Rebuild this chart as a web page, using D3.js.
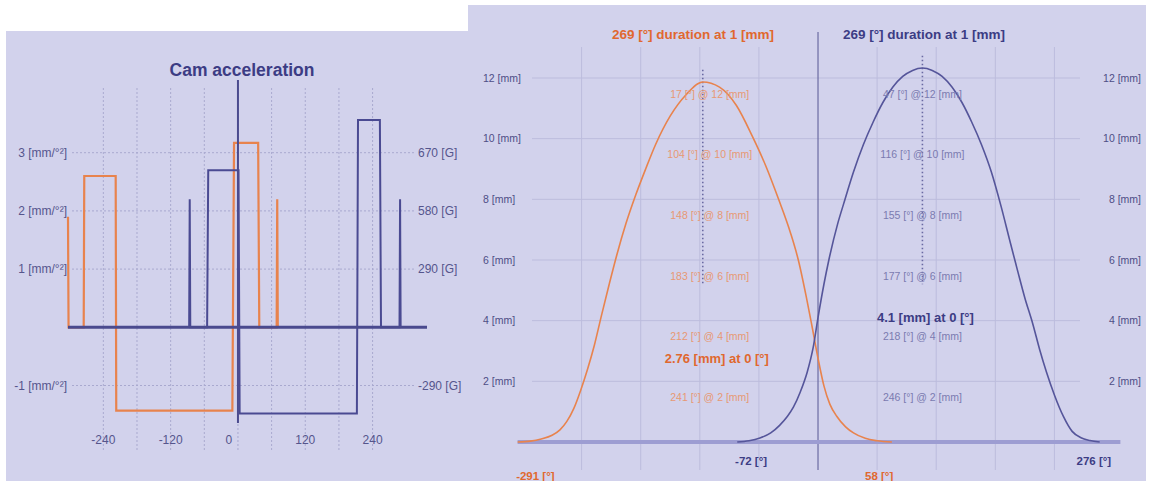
<!DOCTYPE html>
<html><head><meta charset="utf-8">
<script src="https://cdn.jsdelivr.net/npm/d3@7"></script>
<style>
body{margin:0;background:#fff;}
svg{display:block;font-family:"Liberation Sans",Arial,sans-serif;}
</style>
</head><body>
<svg id="c" width="1155" height="481"></svg>
<script>
// ---------- LEFT CHART DATA (Cam acceleration) ----------
const accelTicksY = [3, 2, 1, -1];
const accelLabelsLeft = ["3 [mm/°²]", "2 [mm/°²]", "1 [mm/°²]", "-1 [mm/°²]"];
const accelLabelsRight = ["670 [G]", "580 [G]", "290 [G]", "-290 [G]"];
const accelTicksX = [-240, -120, 0, 120, 240];
const accelGridX = [-240, -180, -120, -60, 0, 60, 120, 180, 240];
const orangeAccelDeg = [-303, -302, -275, -274, -218, -217, -10, -7, 36, 38, 69, 70, 71];
const orangeAccelVal = [1.9, 0, 0, 2.6, 2.6, -1.43, -1.43, 3.17, 3.17, 0, 0, 2.2, 0];
const blueAccelDeg = [-87, -86, -85, -55, -53, 1, 3, 212, 214, 253, 255, 288, 289, 290];
const blueAccelVal = [0, 2.2, 0, 0, 2.7, 2.7, -1.48, -1.48, 3.56, 3.56, 0, 0, 2.2, 0];

// ---------- RIGHT CHART DATA (Valve lift) ----------
const liftTicks = [2, 4, 6, 8, 10, 12];
const liftLabels = ["2 [mm]", "4 [mm]", "6 [mm]", "8 [mm]", "10 [mm]", "12 [mm]"];
const liftGridDeg = [-240, -180, -120, -60, 0, 60, 120, 180, 240];
const orangeLiftDeg = [-305,-292,-281,-270,-262,-255,-248,-241,-234,-227,-220,-212,-204,-195,-185,-175,-165,-150,-134,-117,-100,-83,-67,-53,-40,-28,-20,-12,-6,0,6,12,19,28,36,48,60,75];
const orangeLiftMm  = [0,0.03,0.1,0.22,0.4,0.68,1.1,1.7,2.4,3.2,4.15,5.2,6.2,7.2,8.15,9.0,9.8,10.75,11.45,11.87,11.7,11.1,10.1,9.1,8.0,6.9,6.0,4.8,3.8,2.76,1.85,1.25,0.85,0.5,0.3,0.12,0.04,0];
const blueLiftDeg = [-82,-70,-59,-48,-39,-31,-25,-18,-11,-5,0,6,11,20,26,36,46,56,66,76,86,96,106,116,126,136,146,156,166,176,186,195,203,210,218,225,232,240,249,258,267,276,286];
const blueLiftMm  = [0,0.04,0.13,0.3,0.55,0.85,1.15,1.65,2.3,3.1,4.1,5.2,6.0,7.2,7.85,8.9,9.8,10.55,11.2,11.7,12.05,12.25,12.33,12.25,12.05,11.7,11.2,10.55,9.8,8.9,7.75,6.6,5.6,4.75,3.9,3.05,2.3,1.55,0.85,0.35,0.14,0.05,0];
const orangeAnnLevels = [12, 10, 8, 6, 4, 2];
const orangeAnnDur = [17, 104, 148, 183, 212, 241];
const blueAnnLevels = [12, 10, 8, 6, 4, 2];
const blueAnnDur = [47, 116, 155, 177, 218, 246];
const orangeEnds = [-291, 58];
const blueEnds = [-72, 276];
const durationTitle = "269 [°] duration at 1 [mm]";

// ---------- STYLE ----------
const BG = "#d2d2ec", ORANGE = "#e8834d", NAVY = "#3c3c84";
const svg = d3.select("#c");

// panels
svg.append("rect").attr("x", 6).attr("y", 31).attr("width", 470).attr("height", 450).attr("fill", BG);
svg.append("rect").attr("x", 468).attr("y", 5).attr("width", 678).attr("height", 476).attr("fill", BG);

// ================= LEFT CHART =================
const xL = d3.scaleLinear().domain([-303, 337]).range([68, 427]);
const yL = d3.scaleLinear().domain([-1, 3]).range([385.5, 152.7]);
const gL = svg.append("g");

gL.selectAll("line.gx").data(accelGridX).join("line")
  .attr("x1", d => xL(d)).attr("x2", d => xL(d))
  .attr("y1", 88).attr("y2", 452)
  .attr("stroke", "#a9a9cf").attr("stroke-width", 1).attr("stroke-dasharray", "2,2");
gL.selectAll("line.gy").data(accelTicksY).join("line")
  .attr("x1", 72).attr("x2", 415)
  .attr("y1", d => yL(d)).attr("y2", d => yL(d))
  .attr("stroke", "#a9a9cf").attr("stroke-width", 1).attr("stroke-dasharray", "2,2");

gL.selectAll("text.yl").data(accelTicksY).join("text")
  .attr("x", 67).attr("y", d => yL(d)).attr("dy", "0.35em")
  .attr("text-anchor", "end").attr("font-size", 12).attr("fill", "#55558c")
  .text((d, i) => accelLabelsLeft[i]);
gL.selectAll("text.yr").data(accelTicksY).join("text")
  .attr("x", 418).attr("y", d => yL(d)).attr("dy", "0.35em")
  .attr("text-anchor", "start").attr("font-size", 12).attr("fill", "#55558c")
  .text((d, i) => accelLabelsRight[i]);
gL.selectAll("text.xl").data(accelTicksX).join("text")
  .attr("x", d => xL(d) + (d === 0 ? -9 : 0)).attr("y", 444)
  .attr("text-anchor", "middle").attr("font-size", 12).attr("fill", "#55558c")
  .text(d => d);

gL.append("text").attr("x", 242).attr("y", 76).attr("text-anchor", "middle")
  .attr("font-size", 17.5).attr("font-weight", "bold").attr("fill", NAVY)
  .text("Cam acceleration");

const lineL = d3.line().x(d => xL(d[0])).y(d => yL(d[1]));
gL.append("path").datum(orangeAccelDeg.map((d, i) => [d, orangeAccelVal[i]]))
  .attr("d", lineL).attr("fill", "none").attr("stroke", ORANGE).attr("stroke-width", 2.2);
gL.append("path").datum(blueAccelDeg.map((d, i) => [d, blueAccelVal[i]]))
  .attr("d", lineL).attr("fill", "none").attr("stroke", "#4a4a92").attr("stroke-width", 2);

// zero axis
gL.append("line").attr("x1", xL(-303)).attr("x2", xL(337)).attr("y1", yL(0)).attr("y2", yL(0))
  .attr("stroke", "#4a4a8e").attr("stroke-width", 3);
gL.append("line").attr("x1", xL(0)).attr("x2", xL(0)).attr("y1", 80).attr("y2", 423)
  .attr("stroke", "#4a4a8e").attr("stroke-width", 2);

// ================= RIGHT CHART =================
const xR = d3.scaleLinear().domain([-305, 307]).range([517.6, 1120.4]);
const yR = d3.scaleLinear().domain([0, 12]).range([442, 78]);
const gR = svg.append("g");

gR.selectAll("line.gx").data(liftGridDeg.filter(d => d !== 0)).join("line")
  .attr("x1", d => xR(d)).attr("x2", d => xR(d)).attr("y1", 47).attr("y2", 470)
  .attr("stroke", "#bcbcdd").attr("stroke-width", 1);
gR.selectAll("line.gy").data(liftTicks).join("line")
  .attr("x1", 532).attr("x2", 1080).attr("y1", d => yR(d)).attr("y2", d => yR(d))
  .attr("stroke", "#bcbcdd").attr("stroke-width", 1);

gR.selectAll("text.yl").data(liftTicks).join("text")
  .attr("x", 483).attr("y", d => yR(d)).attr("dy", "0.35em")
  .attr("font-size", 10.5).attr("fill", "#4e4e86")
  .text((d, i) => liftLabels[i]);
gR.selectAll("text.yr").data(liftTicks).join("text")
  .attr("x", 1141).attr("y", d => yR(d)).attr("dy", "0.35em").attr("text-anchor", "end")
  .attr("font-size", 10.5).attr("fill", "#4e4e86")
  .text((d, i) => liftLabels[i]);

// zero vertical line
gR.append("line").attr("x1", xR(0)).attr("x2", xR(0)).attr("y1", 32).attr("y2", 470)
  .attr("stroke", "#6a6aa2").attr("stroke-width", 1.2);

// baseline band
gR.append("line").attr("x1", xR(-305)).attr("x2", xR(307)).attr("y1", yR(0)).attr("y2", yR(0))
  .attr("stroke", "#9d9dd2").attr("stroke-width", 4);

const series = [
  {deg: orangeLiftDeg, mm: orangeLiftMm, color: ORANGE, ann: orangeAnnLevels, dur: orangeAnnDur,
   annColor: "#e79873", boldColor: "#e0682f", ends: orangeEnds, endY: 476, titleX: 693, annDx: 7, boldDx: 14},
  {deg: blueLiftDeg, mm: blueLiftMm, color: "#55559a", ann: blueAnnLevels, dur: blueAnnDur,
   annColor: "#7b7bb0", boldColor: NAVY, ends: blueEnds, endY: 461, titleX: 924, annDx: 0, boldDx: 3}
];
const lineR = d3.line().x(d => xR(d[0])).y(d => yR(d[1])).curve(d3.curveMonotoneX);

series.forEach(s => {
  const pts = s.deg.map((d, i) => [d, s.mm[i]]);
  const peak = pts.reduce((a, b) => (b[1] > a[1] ? b : a));
  const zero = pts.find(p => p[0] === 0);
  // peak dotted marker
  gR.append("line").attr("x1", xR(peak[0])).attr("x2", xR(peak[0]))
    .attr("y1", yR(peak[1] + 0.4)).attr("y2", yR(5.2))
    .attr("stroke", "#6a6aa2").attr("stroke-width", 1.6).attr("stroke-dasharray", "1.5,2.5");
  gR.append("path").datum(pts).attr("d", lineR).attr("fill", "none")
    .attr("stroke", s.color).attr("stroke-width", 1.6);
  // annotations
  gR.selectAll(null).data(s.ann).join("text")
    .attr("x", xR(peak[0]) + s.annDx).attr("y", d => yR(d) + 16).attr("dy", "0.35em")
    .attr("text-anchor", "middle").attr("font-size", 10.5).attr("fill", s.annColor)
    .text((d, i) => `${s.dur[i]} [°] @ ${d} [mm]`);
  gR.append("text").attr("x", xR(peak[0]) + s.boldDx).attr("y", yR(zero[1])).attr("dy", "0.35em")
    .attr("text-anchor", "middle").attr("font-size", 13).attr("font-weight", "bold").attr("fill", s.boldColor)
    .text(`${zero[1]} [mm] at 0 [°]`);
  // title
  gR.append("text").attr("x", s.titleX).attr("y", 39).attr("text-anchor", "middle")
    .attr("font-size", 13.5).attr("font-weight", "bold").attr("fill", s.boldColor)
    .text(durationTitle);
  // end labels
  gR.selectAll(null).data(s.ends).join("text")
    .attr("x", d => xR(d) + 4).attr("y", s.endY).attr("dy", "0.35em")
    .attr("text-anchor", "middle").attr("font-size", 11.5).attr("font-weight", "bold").attr("fill", s.boldColor)
    .text(d => `${d} [°]`);
});
</script>
</body></html>
